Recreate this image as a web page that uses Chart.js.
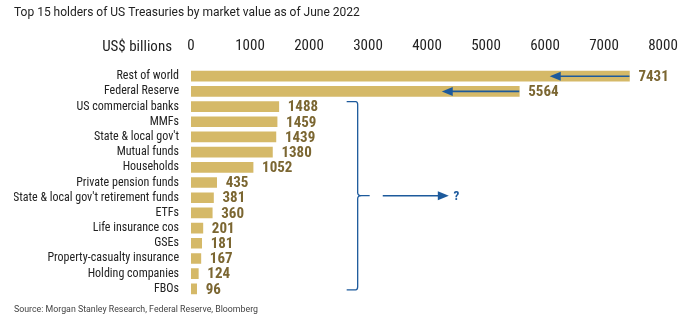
<!DOCTYPE html>
<html>
<head>
<meta charset="utf-8">
<script src="https://cdn.jsdelivr.net/npm/chart.js@4.4.0/dist/chart.umd.min.js"></script>
<style>
  html, body { margin: 0; padding: 0; background: #fff; }
  #wrap { width: 700px; height: 322px; }
</style>
</head>
<body>
<div id="wrap"><canvas id="holders"></canvas></div>
<script>
const holders = ['Rest of world', 'Federal Reserve', 'US commercial banks', 'MMFs', "State & local gov't",
  'Mutual funds', 'Households', 'Private pension funds', "State & local gov't retirement funds", 'ETFs',
  'Life insurance cos', 'GSEs', 'Property-casualty insurance', 'Holding companies', 'FBOs'];
const values = [7431, 5564, 1488, 1459, 1439, 1380, 1052, 435, 381, 360, 201, 181, 167, 124, 96];
const xTicks = [0, 1000, 2000, 3000, 4000, 5000, 6000, 7000, 8000];

// arrows drawn over the two biggest bars: [row, from, to]
const barArrows = [[0, 7431, 6080], [1, 5564, 4250]];

const narrow = '"Liberation Sans Narrow", "Roboto Condensed", Roboto, sans-serif';
const gold = '#d5b968';
const olive = '#7b6631';
const blue = '#1d5a9c';

function arrow(ctx, x1, y, x2) {
  const dir = x2 > x1 ? 1 : -1;
  ctx.beginPath();
  ctx.moveTo(x1, y);
  ctx.lineTo(x2 - dir * 8, y);
  ctx.stroke();
  ctx.beginPath();
  ctx.moveTo(x2, y);
  ctx.lineTo(x2 - dir * 11, y - 4.5);
  ctx.lineTo(x2 - dir * 11, y + 4.5);
  ctx.closePath();
  ctx.fill();
}

const extras = {
  id: 'extras',
  afterDatasetsDraw(chart) {
    const ctx = chart.ctx;
    const x = chart.scales.x, y = chart.scales.y;
    const meta = chart.getDatasetMeta(0);
    ctx.save();

    // value labels
    ctx.fillStyle = olive;
    ctx.font = 'bold 15px ' + narrow;
    ctx.textAlign = 'left';
    ctx.textBaseline = 'middle';
    meta.data.forEach((bar, i) => {
      ctx.fillText(values[i], bar.x + 9, bar.y + 1);
    });

    // unit label next to the top axis
    ctx.fillStyle = '#222';
    ctx.font = '15px ' + narrow;
    ctx.textAlign = 'right';
    ctx.fillText('US$ billions', chart.chartArea.left - 19, 47);

    ctx.strokeStyle = blue;
    ctx.fillStyle = blue;
    ctx.lineWidth = 1.6;
    barArrows.forEach(([row, from, to]) => {
      arrow(ctx, x.getPixelForValue(from), y.getPixelForValue(row), x.getPixelForValue(to));
    });

    // brace around the other holders
    const bx = x.getPixelForValue(2825);
    const top = y.getPixelForValue(2) - 5;
    const bot = y.getPixelForValue(14) + 1;
    const mid = (top + bot) / 2;
    ctx.lineWidth = 1.3;
    ctx.beginPath();
    ctx.moveTo(bx - 11, top);
    ctx.lineTo(bx - 2, top);
    ctx.quadraticCurveTo(bx, top, bx, top + 3);
    ctx.lineTo(bx, mid - 3);
    ctx.quadraticCurveTo(bx, mid, bx + 4, mid);
    ctx.lineTo(bx + 12, mid);
    ctx.moveTo(bx + 4, mid);
    ctx.quadraticCurveTo(bx, mid, bx, mid + 3);
    ctx.lineTo(bx, bot - 3);
    ctx.quadraticCurveTo(bx, bot, bx - 2, bot);
    ctx.lineTo(bx - 11, bot);
    ctx.stroke();

    ctx.lineWidth = 1.6;
    arrow(ctx, x.getPixelForValue(3250), mid, x.getPixelForValue(4370));
    ctx.font = 'bold 13px ' + narrow;
    ctx.textAlign = 'left';
    ctx.fillText('?', x.getPixelForValue(4450), mid + 1);
    ctx.restore();
  }
};

new Chart(document.getElementById('holders'), {
  type: 'bar',
  data: {
    labels: holders,
    datasets: [{
      data: values,
      backgroundColor: gold,
      borderWidth: 0,
      barThickness: 10
    }]
  },
  options: {
    indexAxis: 'y',
    responsive: true,
    maintainAspectRatio: false,
    animation: false,
    layout: { padding: { left: 14, right: 37, top: 0, bottom: 0 } },
    scales: {
      x: {
        position: 'top',
        min: 0,
        max: 8000,
        afterBuildTicks: (scale) => { scale.ticks = xTicks.map(v => ({ value: v })); },
        afterFit: (scale) => { scale.height = 48; },
        grid: { display: false, drawTicks: false },
        border: { display: false },
        ticks: {
          color: '#222',
          font: { family: narrow, size: 15 },
          padding: 13,
          maxRotation: 0,
          callback: (v) => String(v)
        }
      },
      y: {
        afterFit: (scale) => { scale.width = 177; },
        grid: { display: false, drawTicks: false },
        border: { display: false },
        ticks: {
          color: '#222',
          font: { family: narrow, size: 12 },
          padding: 12,
          autoSkip: false
        }
      }
    },
    plugins: {
      legend: { display: false },
      tooltip: { enabled: false },
      title: {
        display: true,
        text: 'Top 15 holders of US Treasuries by market value as of June 2022',
        align: 'start',
        color: '#222',
        font: { family: 'Roboto, sans-serif', size: 12, weight: 'normal', lineHeight: 1.3 },
        padding: { top: 5, bottom: 0 }
      },
      subtitle: {
        display: true,
        position: 'bottom',
        text: 'Source: Morgan Stanley Research, Federal Reserve, Bloomberg',
        align: 'start',
        color: '#444',
        font: { family: 'Roboto, sans-serif', size: 8.8, lineHeight: 1.2 },
        padding: { top: 8, bottom: 7 }
      }
    }
  },
  plugins: [extras]
});
</script>
</body>
</html>
